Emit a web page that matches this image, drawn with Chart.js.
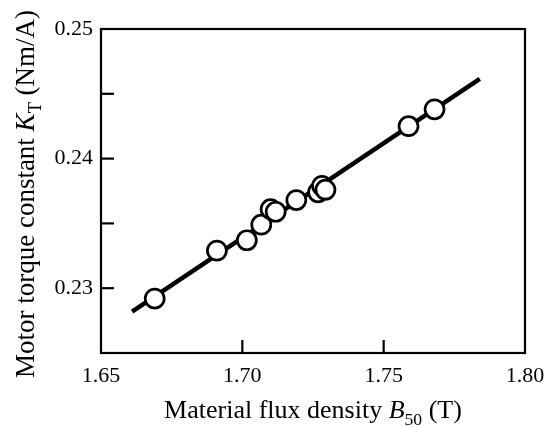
<!DOCTYPE html>
<html>
<head>
<meta charset="utf-8">
<style>
  html, body { margin: 0; padding: 0; background: #fff; }
  #wrap { width: 546px; height: 427px; }
</style>
<script src="https://cdn.jsdelivr.net/npm/chart.js@4/dist/chart.umd.min.js"></script>
</head>
<body>
<div id="wrap"><canvas id="myChart" width="546" height="427"></canvas></div>
<script>
// Datos
const fluxDensity = [1.669, 1.691, 1.7016, 1.7067, 1.710, 1.7118, 1.7191, 1.7268, 1.7282, 1.7294, 1.7588, 1.768];
const torqueConst = [0.2292, 0.2329, 0.2337, 0.2349, 0.2361, 0.2359, 0.2368, 0.2374, 0.2379, 0.2376, 0.2425, 0.2438];
// Recta de ajuste (extremos)
const fitX = [1.661, 1.784];
const fitY = [0.2282, 0.24615];
const xTickLabels = ['1.65', '1.70', '1.75', '1.80'];
const yTickLabels = ['0.23', '0.24', '0.25'];

const serif = '"Liberation Serif", "Times New Roman", serif';

// Dibuja texto por partes (normal, cursiva, subindice)
function drawParts(ctx, parts, size) {
  let x = 0;
  parts.forEach(p => {
    const s = p.sub ? size * 0.68 : size;
    ctx.font = (p.italic ? 'italic ' : '') + s + 'px ' + serif;
    ctx.fillText(p.t, x, p.sub ? size * 0.28 : 0);
    x += ctx.measureText(p.t).width;
  });
}
function partsWidth(ctx, parts, size) {
  let w = 0;
  parts.forEach(p => {
    const s = p.sub ? size * 0.68 : size;
    ctx.font = (p.italic ? 'italic ' : '') + s + 'px ' + serif;
    w += ctx.measureText(p.t).width;
  });
  return w;
}

const framePlugin = {
  id: 'frame',
  afterDraw(chart) {
    const { ctx, chartArea: a, scales } = chart;
    ctx.save();
    ctx.strokeStyle = '#000';
    ctx.lineWidth = 2.2;
    ctx.strokeRect(a.left, a.top, a.right - a.left, a.bottom - a.top);
    // marcas hacia adentro
    [1.70, 1.75].forEach(v => {
      const px = scales.x.getPixelForValue(v);
      ctx.beginPath(); ctx.moveTo(px, a.bottom); ctx.lineTo(px, a.bottom - 13); ctx.stroke();
    });
    [0.23, 0.235, 0.24, 0.245].forEach(v => {
      const py = scales.y.getPixelForValue(v);
      ctx.beginPath(); ctx.moveTo(a.left, py); ctx.lineTo(a.left + 13, py); ctx.stroke();
    });
    // titulos de ejes
    ctx.fillStyle = '#000';
    ctx.textBaseline = 'alphabetic';
    const xs = 26;
    const xt = [{ t: 'Material flux density ' }, { t: 'B', italic: true }, { t: '50', sub: true }, { t: ' (T)' }];
    const wx = partsWidth(ctx, xt, xs);
    ctx.save();
    ctx.translate((a.left + a.right) / 2 - wx / 2, 418);
    drawParts(ctx, xt, xs);
    ctx.restore();
    const ys = 27;
    const yt = [{ t: 'Motor torque constant ' }, { t: 'K', italic: true }, { t: 'T', sub: true }, { t: ' (Nm/A)' }];
    const wy = partsWidth(ctx, yt, ys);
    ctx.save();
    ctx.translate(33.5, 194 + wy / 2);
    ctx.rotate(-Math.PI / 2);
    drawParts(ctx, yt, ys);
    ctx.restore();
    ctx.restore();
  }
};

new Chart(document.getElementById('myChart'), {
  data: {
    datasets: [
      {
        type: 'scatter',
        data: fluxDensity.map((x, i) => ({ x: x, y: torqueConst[i] })),
        pointRadius: 9.5,
        pointBorderWidth: 2.7,
        pointBackgroundColor: '#fff',
        pointBorderColor: '#000',
        order: 1
      },
      {
        type: 'line',
        data: fitX.map((x, i) => ({ x: x, y: fitY[i] })),
        borderColor: '#000',
        borderWidth: 4.5,
        pointRadius: 0,
        order: 2
      }
    ]
  },
  options: {
    responsive: false,
    animation: false,
    layout: { padding: { left: 0, top: 29, right: 21, bottom: 0 } },
    plugins: { legend: { display: false }, tooltip: { enabled: false } },
    scales: {
      x: {
        type: 'linear',
        min: 1.65,
        max: 1.80,
        afterFit: s => { s.height = 74; s.paddingLeft = 0; s.paddingRight = 0; },
        grid: { display: false, drawTicks: false },
        border: { display: false },
        ticks: {
          stepSize: 0.05,
          padding: 10,
          color: '#000',
          font: { family: serif, size: 22 },
          callback: (v) => xTickLabels.find(t => Math.abs(parseFloat(t) - v) < 1e-6) || ''
        }
      },
      y: {
        type: 'linear',
        min: 0.225,
        max: 0.25,
        afterFit: s => { s.width = 101; s.paddingTop = 0; s.paddingBottom = 0; },
        grid: { display: false, drawTicks: false },
        border: { display: false },
        ticks: {
          stepSize: 0.005,
          padding: 8,
          color: '#000',
          font: { family: serif, size: 22 },
          callback: (v) => yTickLabels.find(t => Math.abs(parseFloat(t) - v) < 1e-6) || ''
        }
      }
    }
  },
  plugins: [framePlugin]
});
</script>
</body>
</html>
